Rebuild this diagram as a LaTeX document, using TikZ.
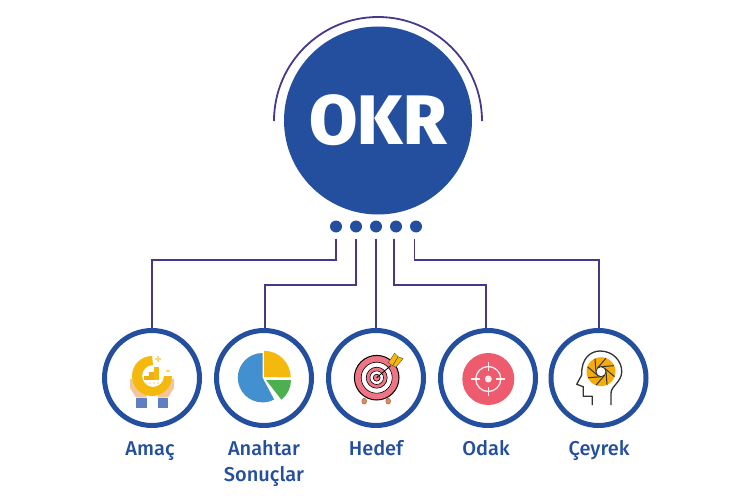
\documentclass[tikz,border=0pt]{standalone}
\usepackage{fontspec}
\usepackage{tikz}
\setmainfont{Fira Sans Medium}
\newfontfamily\hubfont{Fira Sans ExtraBold}
\usetikzlibrary{positioning}
\definecolor{mblue}{HTML}{234F9E}
\definecolor{mline}{HTML}{46398A}
\definecolor{mgold}{HTML}{F4B90C}
\definecolor{mpeach}{HTML}{F3C59B}
\definecolor{mcuff}{HTML}{5F7FC4}
\definecolor{mpie}{HTML}{4390D0}
\definecolor{mgreen}{HTML}{4CAF50}
\definecolor{mrose}{HTML}{EE5B6E}
\definecolor{mskin}{HTML}{DE8A5A}
\definecolor{minkk}{HTML}{333333}
\tikzset{hub/.style = {fill = mblue, circle, inner sep = 0, minimum size = 188, text = white,
                       font = \hubfont\fontsize{70}{70}\selectfont}}
\tikzset{circ/.style = {fill = mblue, circle, inner sep = 0, minimum size = 12}}
\tikzset{ring/.style = {draw = mblue, line width = 5, circle, fill = white, inner sep = 0, minimum size = 95}}
\tikzset{link/.style = {draw = mline, line width = 1.8, shorten <= 6}}
\tikzset{lab/.style = {text = mblue, anchor = base, align = center, inner sep = 0,
                       font = \fontsize{20}{26}\selectfont}}
\begin{document}
\begin{tikzpicture}[x = 1pt, y = -1pt]
    \useasboundingbox (0, 0) rectangle (750, 500);
    \node [hub] (okr) at (378, 120.5) {OKR};
    \draw [mline, line width = 1.8] (274, 121) arc (-180:0:104);
    \foreach \i/\x in {1/336, 2/356, 3/376, 4/396, 5/416} {
      \node [circ] (dot\i) at (\x, 226.5) {};
    }
    \node [ring] (amac) at (152, 378) {};
    \node [ring] (sonuc) at (264, 378) {};
    \node [ring] (hedef) at (376, 378) {};
    \node [ring] (odak) at (488, 378) {};
    \node [ring] (ceyrek) at (598.5, 378) {};
    \draw [link] (dot1.south) -- ++(0, 27) -| (amac);
    \draw [link] (dot2.south) -- ++(0, 52) -| ([xshift = 1]sonuc.north);
    \draw [link] (dot3.south) -- (hedef.north);
    \draw [link] ([xshift = -2]dot4.south) -- ++(0, 52) -| ([xshift = -2]odak.north);
    \draw [link] ([xshift = -1.5]dot5.south) -- ++(0, 27) -| ([xshift = 0.5]ceyrek.north);
    \node [lab] (amaclab) at (150, 455) {Amaç};
    \node [lab] (sonuclab) at (264, 455) {Anahtar};
    \node [lab] (sonuclabb) at (264, 481) {Sonuçlar};
    \node [lab] (hedeflab) at (376, 455) {Hedef};
    \node [lab] (odaklab) at (486, 455) {Odak};
    \node [lab] (ceyreklab) at (599, 455) {Çeyrek};
    \begin{scope}[shift = {(152, 376)}]
      \foreach \s in {-1, 1} {
        \fill [mpeach, rounded corners = 1] (\s*22, 2) -- (\s*22, 12) -- (\s*16, 21.5) -- (\s*5.5, 21.5) -- (\s*5.5, 15) -- (\s*15, 6) -- cycle;
        \fill [mcuff] (\s*5.5, 22) rectangle (\s*16, 31.5);
      }
      \fill [mgold] (0, -20) arc (-90:-360:20) -- (12, 0) arc (0:270:11) -- cycle;
      \fill [mgold!85!brown] (-8, 4) rectangle (-3, 0);
      \fill [mgold!85!brown] (-3, 4) rectangle (2, -4);
      \fill [mgold] (2, 4) rectangle (7, -9);
      \foreach \x in {-6, -2, 2, 6} {
        \fill [mgold!60] (\x, 7) circle (0.9);
      }
      \draw [mgold!55, line width = 1.5] (3, -17) -- (9, -17) (6, -20) -- (6, -14) (14, -5) -- (18, -5);
    \end{scope}
    \begin{scope}[shift = {(264, 377.5)}]
      \fill [mpie] (-1.5, 0) -- (-1.5, -24.5) arc (-90:-298:24.7) -- cycle;
      \fill [mgold] (0, -0.5) -- (0, -26.7) arc (-90:0:26.7) -- cycle;
      \fill [mgreen] (2, 2.5) -- (27, 2.5) arc (0:52:25) -- cycle;
    \end{scope}
    \begin{scope}[shift = {(376.7, 377.7)}]
      \fill [mrose!85!white, draw = black, line width = 1] (0, 0) circle (22.3);
      \fill [white, draw = black, line width = 0.6] (0, 0) circle (15.5);
      \fill [mrose!85!white, draw = black, line width = 0.6] (0, 0) circle (10.5);
      \fill [white, draw = black, line width = 0.6] (0, 0) circle (6.8);
      \fill [mrose!85!white, draw = black, line width = 0.6] (0, 0) circle (3.5);
      \fill [mskin, draw = mskin!70!black, line width = 0.4] (-12.5, 23.5) circle (2.4 and 3);
      \fill [mskin, draw = mskin!70!black, line width = 0.4] (11.5, 23.5) circle (2.4 and 3);
      \draw [black, line width = 0.8] (0, 0) -- (14, -12);
      \fill [mgold, draw = minkk, line width = 0.3] (11.5, -15) -- (18, -24.5) -- (21.5, -21) -- (16, -12) -- cycle;
      \fill [mgold, draw = minkk, line width = 0.3] (16, -12) -- (21.5, -21) -- (26.5, -19) -- (19, -10.5) -- cycle;
    \end{scope}
    \begin{scope}[shift = {(488.3, 379)}]
      \fill [mrose] (0, 0) circle (26);
      \draw [white!90!mrose, line width = 1.3] (0, 0) circle (12.5);
      \foreach \a in {0, 90, 180, 270} {
        \draw [white!90!mrose, line width = 1.3] (\a:8) -- (\a:17);
      }
      \fill [white!90!mrose] (0, 0) circle (3.5);
    \end{scope}
    \fill [mgold!80!orange] (601, 371.7) circle (14.5);
    \begin{scope}[shift = {(601, 371.7)}]
      \foreach \a in {0, 45, ..., 315} {
        \draw [minkk, line width = 1] (\a:5) -- (\a+65:14.3);
      }
      \fill [white] (0, 0) circle (4.8);
      \draw [minkk, line width = 0.8] (0, 0) circle (5);
    \end{scope}
    \draw [minkk, line width = 1.3, line join = round] (592.3, 405) -- (592.3, 396.3) -- (583.3, 396.3) -- (583.3, 386.7)
      -- (576.7, 384.3) -- (581.7, 375) .. controls (581, 358) and (591, 351) .. (600, 351)
      .. controls (613, 351) and (622, 361) .. (621.7, 372) .. controls (621.5, 382) and (611, 386) .. (611, 393.3) -- (611, 405);
\end{tikzpicture}
\end{document}
